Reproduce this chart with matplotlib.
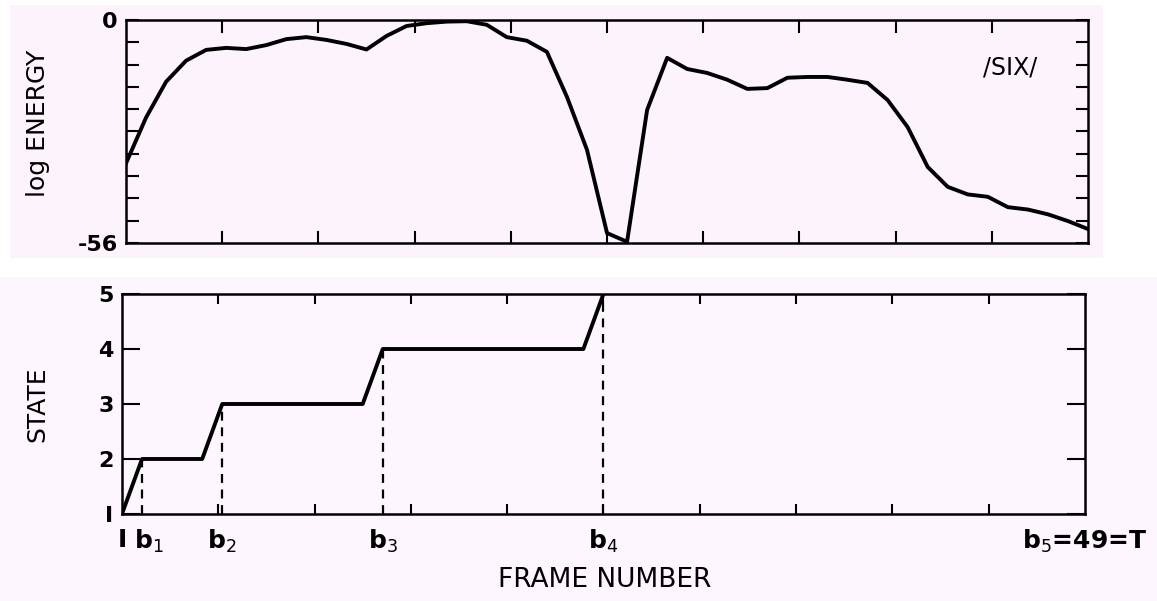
import matplotlib
matplotlib.use('Agg')
import matplotlib.pyplot as plt
import matplotlib.transforms as mtransforms
import numpy as np
from matplotlib.patches import Rectangle

# Energy contour (log energy per frame)
frames = np.arange(1, 50)
log_energy = [-36.0, -24.5, -15.5, -10.2, -7.5, -7.0, -7.3, -6.3, -4.8, -4.3,
              -5.0, -6.0, -7.4, -4.0, -1.5, -0.8, -0.4, -0.3, -1.2, -4.3,
              -5.2, -8.0, -19.3, -32.6, -53.5, -55.7, -22.6, -9.5, -12.3, -13.3,
              -15.0, -17.3, -17.1, -14.5, -14.3, -14.3, -15.0, -15.8, -20.1, -26.9,
              -36.9, -41.9, -43.8, -44.4, -47.0, -47.6, -48.8, -50.5, -52.5]

# State path (Viterbi style segmentation)
state_frames = [1, 2, 5, 6, 13, 14, 24, 25]
state_values = [1, 2, 2, 3, 3, 4, 4, 5]

# Segment boundaries
b_frames = [2, 6, 14, 25]
b_states = [2, 3, 4, 5]
b_ticks = [1, 2, 6, 14, 25, 49]
b_labels = ['I', r'b$_1$', r'b$_2$', r'b$_3$', r'b$_4$', r'b$_5$=49=T']

word = '/SIX/'
e_min, e_max = -56, 0
T = 49

plt.rcParams['font.family'] = 'DejaVu Sans'
plt.rcParams['mathtext.fontset'] = 'dejavusans'

fig = plt.figure(figsize=(11.57, 6.01), dpi=100)
fig.set_facecolor('white')

# paper-coloured background blocks of the scan
fig.patches.append(Rectangle((0.0086, 0.5707), 0.9447, 0.421, transform=fig.transFigure,
                             facecolor='#fdf3fd', edgecolor='none', zorder=-10))
fig.patches.append(Rectangle((0.0, 0.0), 1.0, 0.539, transform=fig.transFigure,
                             facecolor='#fef6fe', edgecolor='none', zorder=-10))

div_ticks = np.linspace(1, T, 11)[1:-1]

# ---- top panel: log energy ----
ax1 = fig.add_axes([0.1089, 0.5957, 0.8315, 0.371])
ax1.set_facecolor('#fdf3fd')
ax1.plot(frames, log_energy, color='black', lw=2.8, solid_joinstyle='round')
ax1.set_xlim(1, T)
ax1.set_ylim(e_min, e_max)
ax1.set_xticks(div_ticks)
ax1.set_xticklabels([])
yt = np.linspace(e_min, e_max, 11)
ax1.set_yticks(yt)
ax1.set_yticklabels(['-56'] + [''] * 9 + ['0'], fontsize=16, fontweight='bold')
ax1.tick_params(direction='in', length=9, width=1.5, top=True, right=True, pad=6)
for s in ax1.spines.values():
    s.set_linewidth(1.8)
ax1.text(0.919, 0.785, word, transform=ax1.transAxes, fontsize=17,
         ha='center', va='center')

# ---- bottom panel: state ----
ax2 = fig.add_axes([0.1054, 0.1448, 0.8323, 0.366])
ax2.set_facecolor('#fef6fe')
ax2.plot(state_frames, state_values, color='black', lw=2.8, solid_joinstyle='round')
for bf, bs in zip(b_frames, b_states):
    ax2.plot([bf, bf], [1, bs], color='black', lw=1.6, ls=(0, (4, 3)))
ax2.set_xlim(1, T)
ax2.set_ylim(1, 5)
ax2.set_yticks([1, 2, 3, 4, 5])
ax2.set_yticklabels(['I', '2', '3', '4', '5'], fontsize=16, fontweight='bold')
ax2.xaxis.remove_overlapping_locs = False  # b4 sits on a division tick
ax2.set_xticks(div_ticks)
ax2.set_xticklabels([])
ax2.set_xticks(b_ticks, minor=True)
ax2.set_xticklabels(b_labels, minor=True, fontsize=18, fontweight='bold')
ax2.tick_params(axis='x', which='major', direction='in', length=7, width=1.5, top=True)
ax2.tick_params(axis='x', which='minor', length=0, pad=10)
ax2.tick_params(axis='y', direction='in', length=13, width=1.5, right=True, pad=6)
for s in ax2.spines.values():
    s.set_linewidth(1.8)

# nudge b1 to the right so it doesn't collide with the "1"
lab_b1 = ax2.get_xticklabels(minor=True)[1]
lab_b1.set_transform(lab_b1.get_transform() +
                     mtransforms.ScaledTranslation(0.07, 0, fig.dpi_scale_trans))

# axis titles
fig.text(0.033, 0.795, 'log ENERGY', rotation=90, fontsize=18, ha='center', va='center')
fig.text(0.032, 0.327, 'STATE', rotation=90, fontsize=18, ha='center', va='center')
fig.text(0.523, 0.035, 'FRAME NUMBER', fontsize=19, ha='center', va='center')

fig.savefig('out.png', dpi=100, facecolor=fig.get_facecolor())
